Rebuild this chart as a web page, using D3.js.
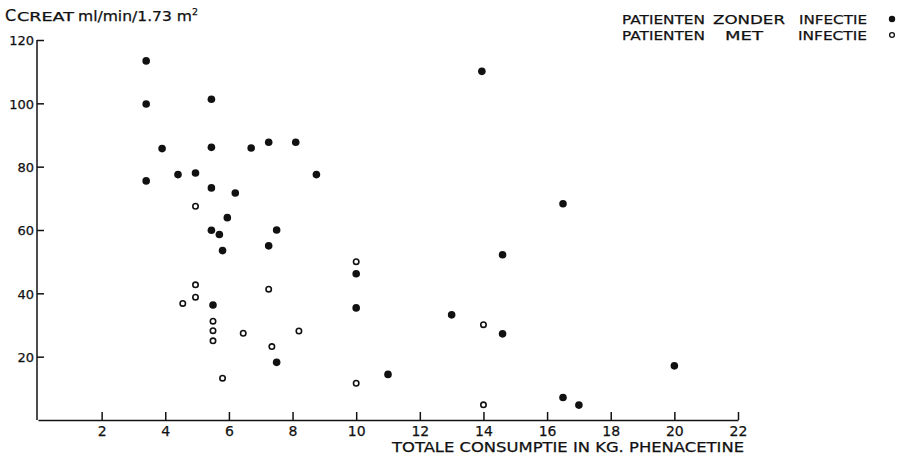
<!DOCTYPE html>
<html>
<head>
<meta charset="utf-8">
<script src="https://cdn.jsdelivr.net/npm/d3@7/dist/d3.min.js"></script>
<style>
  html, body { margin: 0; padding: 0; background: #fff; }
  svg { display: block; }
  text { font-family: "DejaVu Sans", sans-serif; fill: #111; stroke: #111; stroke-width: 0.25px; }
</style>
</head>
<body>
<svg id="chart" width="898" height="456"></svg>
<script>
// Creatinine clearance vs. total phenacetin consumption
const noInfX = [3.4, 3.4, 5.45, 3.9, 5.45, 6.7, 7.25, 8.1, 3.4, 4.4, 4.95, 8.75, 5.45, 6.2, 5.95, 5.45, 5.7, 7.5, 5.8, 7.25, 5.5, 7.5, 10, 10, 13, 14.6, 14.6, 11, 16.5, 17, 16.5, 20, 13.95];
const noInfY = [113.4, 99.8, 101.3, 85.7, 86.1, 85.9, 87.7, 87.7, 75.5, 77.5, 78, 77.5, 73.3, 71.7, 63.9, 59.9, 58.6, 60, 53.5, 55, 36.3, 18.2, 46.2, 35.4, 33.2, 52.2, 27.2, 14.4, 7.1, 4.7, 68.3, 17.1, 110.1];
const infX = [4.95, 4.95, 7.25, 4.95, 4.55, 5.5, 5.5, 6.45, 8.2, 5.5, 7.35, 5.8, 10, 14, 10, 14];
const infY = [67.5, 42.7, 41.3, 38.8, 36.8, 31.2, 28.2, 27.4, 28.1, 25, 23.2, 13.2, 50, 30.1, 11.6, 4.8];
const xTicks = [2, 4, 6, 8, 10, 12, 14, 16, 18, 20, 22];
const yTicks = [20, 40, 60, 80, 100, 120];
const legendWords = [["PATIENTEN", "ZONDER", "INFECTIE"], ["PATIENTEN", "MET", "INFECTIE"]];
const xTitle = "TOTALE CONSUMPTIE IN KG. PHENACETINE";

const svg = d3.select("#chart");
const x = d3.scaleLinear().domain([0, 22]).range([38, 738]);
const y = d3.scaleLinear().domain([0, 120]).range([420, 40]);

// axes
const yAxis = svg.append("g")
  .attr("transform", `translate(${x(0) - 1},0)`)
  .call(d3.axisLeft(y).tickValues(yTicks).tickSizeInner(-7).tickSizeOuter(0).tickPadding(3));
yAxis.selectAll("text").style("font-size", "13px").attr("dy", "0.36em");

const xAxis = svg.append("g")
  .attr("transform", `translate(0,${y(0)})`)
  .call(d3.axisBottom(x).tickValues(xTicks).tickSizeInner(-8).tickSizeOuter(0).tickPadding(6));
xAxis.selectAll("text").style("font-size", "14px");

svg.selectAll(".domain, .tick line").attr("stroke", "#111").attr("stroke-width", 1.5);
yAxis.select(".domain").attr("d", `M0,${y(0)}V${y(120)}`);
svg.selectAll("g text").attr("font-family", null);

// y-axis title
const title = svg.append("text").attr("y", 21);
title.append("tspan").attr("x", 5).style("font-size", "16px").text("C");
title.append("tspan").attr("x", 17).attr("textLength", 57).attr("lengthAdjust", "spacingAndGlyphs")
  .style("font-size", "11.5px").text("CREAT");
title.append("tspan").attr("x", 78).attr("textLength", 114).attr("lengthAdjust", "spacingAndGlyphs")
  .style("font-size", "14px").text("ml/min/1.73 m");
title.append("tspan").attr("x", 192).attr("dy", -6).style("font-size", "9.5px").text("2");

// x-axis title
svg.append("text")
  .attr("x", 392).attr("y", 452)
  .attr("textLength", 352).attr("lengthAdjust", "spacingAndGlyphs")
  .style("font-size", "14px")
  .text(xTitle);

// points
svg.append("g").selectAll("circle")
  .data(d3.range(noInfX.length))
  .join("circle")
  .attr("cx", i => x(noInfX[i]))
  .attr("cy", i => y(noInfY[i]))
  .attr("r", 3.8)
  .attr("fill", "#111");

svg.append("g").selectAll("circle")
  .data(d3.range(infX.length))
  .join("circle")
  .attr("cx", i => x(infX[i]))
  .attr("cy", i => y(infY[i]))
  .attr("r", 2.7)
  .attr("fill", "#fff")
  .attr("stroke", "#111")
  .attr("stroke-width", 1.6);

// legend: each word placed separately
const wordX = [[622, 713, 799], [622, 725, 798]];
const wordW = [[83, 72, 68], [83, 38, 69]];
const legend = svg.append("g");
legendWords.forEach((words, i) => {
  const ly = 19 + i * 16;
  words.forEach((w, j) => {
    legend.append("text")
      .attr("x", wordX[i][j]).attr("y", ly + 4.5)
      .attr("textLength", wordW[i][j]).attr("lengthAdjust", "spacingAndGlyphs")
      .style("font-size", "12.5px")
      .text(w);
  });
  legend.append("circle")
    .attr("cx", 892).attr("cy", ly)
    .attr("r", i === 0 ? 3.2 : 2.4)
    .attr("fill", i === 0 ? "#111" : "#fff")
    .attr("stroke", "#111")
    .attr("stroke-width", i === 0 ? 0 : 1.3);
});
</script>
</body>
</html>
